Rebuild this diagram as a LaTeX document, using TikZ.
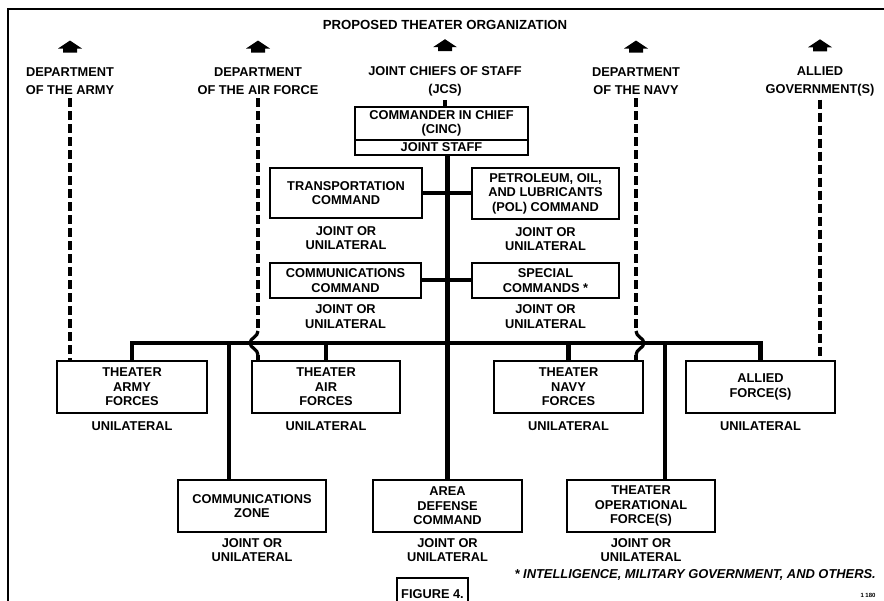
\documentclass[tikz,border=0pt]{standalone}
\usepackage{fontspec}
\setmainfont{Liberation Sans}
\usetikzlibrary{positioning, calc}
\tikzset{%
	orgbox/.style={draw, line width=2pt, align=center, inner sep=0pt,%
		minimum width=149, minimum height=52, font=\bfseries\fontsize{12.8}{14.5}\selectfont},
	status/.style={align=center, inner sep=0pt, font=\bfseries\fontsize{12.8}{14.5}\selectfont},
	dept/.style={align=center, inner sep=0pt, outer sep=4pt, font=\bfseries\fontsize{12.8}{18}\selectfont},
	command/.style={line width=4.5pt},
	feeder/.style={line width=4pt},
	liaison/.style={line width=3.8pt, dash pattern=on 9pt off 4pt},
	hop/.style={line width=3.2pt},
	uphead/.pic={\fill (-12,0) -- (0,-8) -- (12,0) -- (7,0) -- (7,4) -- (-7,4) -- (-7,0) -- cycle;}
}
\begin{document}
\begin{tikzpicture}[x=1pt, y=-1pt]
	\useasboundingbox (0,0) rectangle (884,601);
	\draw[line width=1.8pt] (8,610) -- (8,9) -- (890,9);
	\node[dept, font=\bfseries\fontsize{13.2}{15}\selectfont] (title) at (445,25) {PROPOSED THEATER ORGANIZATION};

	% higher authorities
	\node[dept] (armydept)  at (70,81)  {DEPARTMENT\\OF THE ARMY};
	\node[dept] (airdept)   at (258,81) {DEPARTMENT\\OF THE AIR FORCE};
	\node[dept] (jcs)       at (445,81) {JOINT CHIEFS OF STAFF\\(JCS)};
	\node[dept] (navydept)  at (636,81) {DEPARTMENT\\OF THE NAVY};
	\node[dept] (alliedgov) at (820,81) {ALLIED\\GOVERNMENT(S)};
	\foreach \n in {armydept, airdept, jcs, navydept, alliedgov}
		\path (\n.north) ++(0,-15) pic {uphead};

	% theater headquarters and commands
	\node[orgbox, minimum width=173, minimum height=33] (cinc) at (441.5,123.5) {COMMANDER IN CHIEF\\(CINC)};
	\node[orgbox, minimum width=173, minimum height=15, below=-2pt of cinc] (staff) {JOINT STAFF};
	\node[orgbox, minimum width=152, minimum height=50] (trans) at (346,193) {TRANSPORTATION\\COMMAND};
	\node[status, below=7pt of trans] (transst) {JOINT OR\\UNILATERAL};
	\node[orgbox, minimum width=147, minimum height=51] (pol) at (545.5,193.5) {PETROLEUM, OIL,\\AND LUBRICANTS\\(POL) COMMAND};
	\node[status, below=7pt of pol] (polst) {JOINT OR\\UNILATERAL};
	\node[orgbox, minimum width=151, minimum height=35] (comm) at (345.5,280.5) {COMMUNICATIONS\\COMMAND};
	\node[status, below=5.5pt of comm] (commst) {JOINT OR\\UNILATERAL};
	\node[orgbox, minimum width=147, minimum height=35] (spec) at (545.5,280.5) {SPECIAL\\COMMANDS *};
	\node[status, below=5.5pt of spec] (specst) {JOINT OR\\UNILATERAL};

	% forces
	\node[orgbox, minimum width=150] (army)   at (132,387)   {THEATER\\ARMY\\FORCES};
	\node[status, below=7.5pt of army] (armyst) {UNILATERAL};
	\node[orgbox, minimum width=148] (air)    at (326,387)   {THEATER\\AIR\\FORCES};
	\node[status, below=7.5pt of air] (airst) {UNILATERAL};
	\node[orgbox]                    (navy)   at (568.5,387) {THEATER\\NAVY\\FORCES};
	\node[status, below=7.5pt of navy] (navyst) {UNILATERAL};
	\node[orgbox]                    (allied) at (760.5,387) {ALLIED\\FORCE(S)};
	\node[status, below=7.5pt of allied] (alliedst) {UNILATERAL};
	\node[orgbox, minimum width=148] (zone)   at (252,506)   {COMMUNICATIONS\\ZONE};
	\node[status, below=5pt of zone] (zonest) {JOINT OR\\UNILATERAL};
	\node[orgbox]                    (area)   at (447.5,506) {AREA\\DEFENSE\\COMMAND};
	\node[status, below=5pt of area] (areast) {JOINT OR\\UNILATERAL};
	\node[orgbox, minimum width=148] (ops)    at (641,506)   {THEATER\\OPERATIONAL\\FORCE(S)};
	\node[status, below=5pt of ops] (opsst) {JOINT OR\\UNILATERAL};

	\node[inner sep=0pt, anchor=east, font=\bfseries\itshape\fontsize{12.9}{15}\selectfont] (note) at (876,575) {* INTELLIGENCE, MILITARY GOVERNMENT, AND OTHERS.};
	\node[draw, line width=2pt, inner sep=0pt, minimum width=71, minimum height=32,%
		font=\bfseries\fontsize{12.8}{15}\selectfont] (fig) at (432.5,594) {FIGURE 4.};
	\node[inner sep=0pt, font=\bfseries\fontsize{6}{7}\selectfont] (code) at (868,595) {1 180};

	% command lines
	\coordinate (bar) at (448,343);
	\coordinate (hopT) at (0,331);
	\coordinate (hopB) at (0,355);
	\draw[command] (area.north) -- (area.north |- staff.south);
	\draw[feeder] (trans.east) -- (trans.east -| area.north);
	\draw[feeder] (pol.west) -- (pol.west -| area.north);
	\draw[feeder] (comm.east) -- (comm.east -| area.north);
	\draw[feeder] (spec.west) -- (spec.west -| area.north);
	\draw[command] (army.north) -- (army.north |- bar) -- (allied.north |- bar) -- (allied.north);
	\draw[command] (air.north) -- (air.north |- bar);
	\draw[command] (navy.north) -- (navy.north |- bar);
	\draw[command] ($(zone.north)+(-23,0)$) -- ($(zone.north |- bar)+(-23,0)$);
	\draw[command] ($(ops.north)+(24,0)$) -- ($(ops.north |- bar)+(24,0)$);

	% coordination lines
	\draw[liaison] (jcs.south) -- (jcs.south |- cinc.north);
	\draw[liaison] (armydept.south) -- (armydept.south |- army.north);
	\draw[liaison] (alliedgov.south) -- (alliedgov.south |- allied.north);
	\draw[liaison] (airdept.south) -- (airdept.south |- hopT);
	\draw[hop] (airdept.south |- hopT)
		.. controls +(0,6) and +(0,-5) .. ($(airdept.south |- bar)+(-8,0)$)
		.. controls +(0,5) and +(0,-6) .. (airdept.south |- hopB);
	\draw[liaison] (airdept.south |- hopB) -- (airdept.south |- air.north);
	\draw[liaison] (navydept.south) -- (navydept.south |- hopT);
	\draw[hop] (navydept.south |- hopT)
		.. controls +(0,6) and +(0,-5) .. ($(navydept.south |- bar)+(8,0)$)
		.. controls +(0,5) and +(0,-6) .. (navydept.south |- hopB);
	\draw[liaison] (navydept.south |- hopB) -- (navydept.south |- navy.north);
\end{tikzpicture}
\end{document}
